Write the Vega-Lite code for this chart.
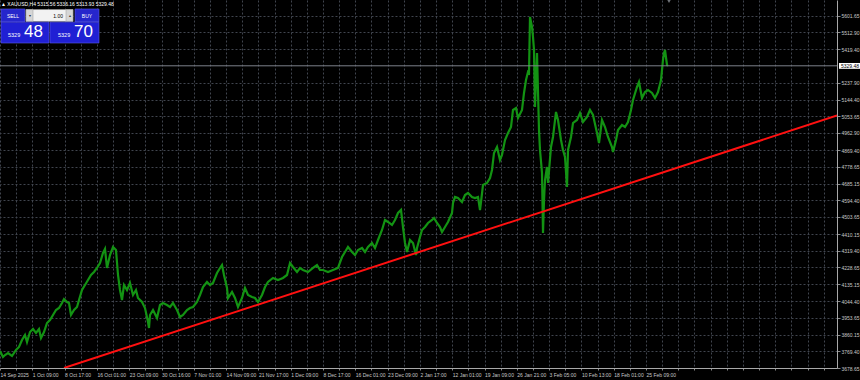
{
  "$schema": "https://vega.github.io/schema/vega-lite/v6.json",
  "width": 837,
  "height": 368,
  "autosize": {"type": "none"},
  "padding": {"left": 0, "top": 0, "right": 23, "bottom": 12},
  "background": "#000000",
  "resolve": {"axis": {"x": "independent", "y": "independent"}},
  "config": {
    "view": {"stroke": null},
    "font": "Liberation Sans",
    "axis": {
      "domainColor": "#a8a8a8",
      "domainWidth": 1,
      "gridColor": "#40454e",
      "gridDash": [2, 2],
      "gridWidth": 1,
      "tickColor": "#8a8a8a",
      "tickSize": 2,
      "labelColor": "#c8c8c8",
      "labelFont": "Liberation Sans",
      "labelFontSize": 5,
      "labelOverlap": false,
      "title": null
    }
  },
  "datasets": {
    "price": [
      {"x":0,"p":3771.5},{"x":3,"p":3738.7},{"x":5,"p":3749.7},{"x":8,"p":3760.6},{"x":12,"p":3744.2},{"x":16,"p":3777.0},{"x":19,"p":3793.4},{"x":22,"p":3831.6},{"x":25,"p":3858.9},{"x":27,"p":3820.7},{"x":30,"p":3875.3},{"x":33,"p":3891.7},{"x":36,"p":3869.9},{"x":39,"p":3891.7},{"x":41,"p":3842.5},{"x":44,"p":3875.3},{"x":47,"p":3924.5},{"x":50,"p":3940.9},{"x":53,"p":3968.2},{"x":56,"p":3995.5},{"x":59,"p":4006.4},{"x":62,"p":4033.8},{"x":64,"p":4055.6},{"x":67,"p":4039.2},{"x":69,"p":4033.8},{"x":71,"p":3968.2},{"x":74,"p":3995.5},{"x":77,"p":4011.9},{"x":79,"p":4050.1},{"x":82,"p":4104.8},{"x":85,"p":4132.1},{"x":88,"p":4159.4},{"x":91,"p":4186.7},{"x":94,"p":4203.1},{"x":97,"p":4225.0},{"x":100,"p":4252.3},{"x":103,"p":4306.9},{"x":105,"p":4328.8},{"x":107,"p":4225.0},{"x":110,"p":4296.0},{"x":113,"p":4339.7},{"x":116,"p":4323.3},{"x":118,"p":4186.7},{"x":120,"p":4104.8},{"x":122,"p":4050.1},{"x":124,"p":4132.1},{"x":127,"p":4104.8},{"x":130,"p":4143.0},{"x":133,"p":4077.5},{"x":136,"p":4104.8},{"x":138,"p":4061.1},{"x":142,"p":4039.2},{"x":145,"p":4006.4},{"x":148,"p":3930.0},{"x":149,"p":3897.2},{"x":150,"p":3968.2},{"x":153,"p":3995.5},{"x":157,"p":3951.8},{"x":160,"p":4022.8},{"x":163,"p":4033.8},{"x":167,"p":4022.8},{"x":170,"p":4011.9},{"x":173,"p":4033.8},{"x":177,"p":3995.5},{"x":180,"p":3957.3},{"x":183,"p":3968.2},{"x":187,"p":3995.5},{"x":190,"p":4006.4},{"x":193,"p":4011.9},{"x":197,"p":4039.2},{"x":200,"p":4077.5},{"x":203,"p":4121.2},{"x":207,"p":4148.5},{"x":210,"p":4132.1},{"x":213,"p":4143.0},{"x":217,"p":4197.6},{"x":220,"p":4225.0},{"x":222,"p":4241.3},{"x":224,"p":4186.7},{"x":227,"p":4115.7},{"x":228,"p":4061.1},{"x":232,"p":4093.8},{"x":235,"p":4061.1},{"x":238,"p":4011.9},{"x":242,"p":4061.1},{"x":245,"p":4115.7},{"x":248,"p":4077.5},{"x":252,"p":4066.5},{"x":255,"p":4061.1},{"x":258,"p":4039.2},{"x":262,"p":4077.5},{"x":265,"p":4121.2},{"x":268,"p":4148.5},{"x":273,"p":4170.3},{"x":278,"p":4159.4},{"x":283,"p":4170.3},{"x":287,"p":4186.7},{"x":290,"p":4252.3},{"x":293,"p":4230.4},{"x":297,"p":4203.1},{"x":300,"p":4225.0},{"x":303,"p":4214.0},{"x":308,"p":4203.1},{"x":313,"p":4225.0},{"x":317,"p":4241.3},{"x":320,"p":4214.0},{"x":323,"p":4214.0},{"x":328,"p":4203.1},{"x":333,"p":4214.0},{"x":338,"p":4225.0},{"x":342,"p":4285.0},{"x":345,"p":4312.4},{"x":348,"p":4339.7},{"x":352,"p":4312.4},{"x":355,"p":4296.0},{"x":358,"p":4323.3},{"x":362,"p":4334.2},{"x":365,"p":4312.4},{"x":368,"p":4339.7},{"x":372,"p":4361.5},{"x":375,"p":4334.2},{"x":378,"p":4377.9},{"x":382,"p":4432.5},{"x":385,"p":4487.2},{"x":388,"p":4476.3},{"x":392,"p":4459.9},{"x":395,"p":4487.2},{"x":398,"p":4525.4},{"x":401,"p":4541.8},{"x":403,"p":4448.9},{"x":405,"p":4361.5},{"x":407,"p":4312.4},{"x":410,"p":4377.9},{"x":413,"p":4361.5},{"x":416,"p":4296.0},{"x":417,"p":4334.2},{"x":420,"p":4394.3},{"x":422,"p":4432.5},{"x":425,"p":4448.9},{"x":428,"p":4470.8},{"x":432,"p":4487.2},{"x":434,"p":4498.1},{"x":437,"p":4470.8},{"x":440,"p":4448.9},{"x":442,"p":4421.6},{"x":445,"p":4448.9},{"x":448,"p":4476.3},{"x":452,"p":4525.4},{"x":453,"p":4580.0},{"x":455,"p":4612.8},{"x":458,"p":4607.4},{"x":462,"p":4585.5},{"x":465,"p":4623.7},{"x":468,"p":4634.7},{"x":472,"p":4612.8},{"x":475,"p":4607.4},{"x":478,"p":4612.8},{"x":480,"p":4541.8},{"x":481,"p":4585.5},{"x":483,"p":4678.4},{"x":487,"p":4689.3},{"x":490,"p":4716.6},{"x":492,"p":4760.3},{"x":494,"p":4853.2},{"x":497,"p":4886.0},{"x":500,"p":4815.0},{"x":502,"p":4842.3},{"x":505,"p":4924.2},{"x":508,"p":4962.5},{"x":511,"p":4995.2},{"x":513,"p":5088.1},{"x":516,"p":5099.0},{"x":518,"p":5044.4},{"x":522,"p":5088.1},{"x":524,"p":5181.0},{"x":526,"p":5252.0},{"x":528,"p":5295.7},{"x":529,"p":5290.2},{"x":530,"p":5596.0},{"x":532,"p":5541.5},{"x":533,"p":5487.0},{"x":534,"p":5415.9},{"x":535,"p":5104.5},{"x":537,"p":5399.5},{"x":539,"p":4978.8},{"x":540,"p":4869.6},{"x":542,"p":4743.9},{"x":543,"p":4416.2},{"x":544,"p":4596.4},{"x":545,"p":4705.7},{"x":547,"p":4776.7},{"x":548,"p":4689.3},{"x":551,"p":4886.0},{"x":553,"p":4940.6},{"x":556,"p":5077.2},{"x":558,"p":5033.5},{"x":561,"p":4924.2},{"x":563,"p":4869.6},{"x":565,"p":4831.4},{"x":567,"p":4667.5},{"x":568,"p":4869.6},{"x":571,"p":4940.6},{"x":573,"p":5017.1},{"x":577,"p":5033.5},{"x":580,"p":5071.7},{"x":583,"p":5022.5},{"x":587,"p":5049.9},{"x":590,"p":5088.1},{"x":593,"p":5060.8},{"x":597,"p":4962.5},{"x":599,"p":4907.8},{"x":602,"p":5033.5},{"x":605,"p":4995.2},{"x":608,"p":4940.6},{"x":612,"p":4886.0},{"x":613,"p":4858.7},{"x":616,"p":4924.2},{"x":618,"p":4978.8},{"x":622,"p":5006.2},{"x":625,"p":4995.2},{"x":628,"p":5022.5},{"x":631,"p":5088.1},{"x":633,"p":5142.8},{"x":637,"p":5213.8},{"x":639,"p":5241.1},{"x":642,"p":5153.7},{"x":645,"p":5186.4},{"x":648,"p":5197.4},{"x":652,"p":5181.0},{"x":655,"p":5153.7},{"x":658,"p":5186.4},{"x":661,"p":5252.0},{"x":663,"p":5361.3},{"x":664,"p":5399.5},{"x":665,"p":5415.9},{"x":667,"p":5334.0},{"x":668,"p":5329.5}
    ],
    "trend": [{"x": 64, "p": 3678.65}, {"x": 837, "p": 5058.0}],
    "marks": [
      {"item": "bid", "p": 5329.48, "label": "5329.48"}
    ]
  },
  "layer": [
    {
      "data": {"name": "price"},
      "mark": {"type": "line", "color": "#139313", "strokeWidth": 2.2, "strokeJoin": "miter"},
      "encoding": {
        "x": {
          "field": "x", "type": "quantitative",
          "scale": {"domain": [0, 837], "nice": false, "zero": false},
          "axis": {
            "orient": "bottom",
            "values": [0,16.15,32.3,48.45,64.6,80.75,96.9,113.05,129.2,145.35,161.5,177.65,193.8,209.95,226.1,242.25,258.4,274.55,290.7,306.85,323,339.15,355.3,371.45,387.6,403.75,419.9,436.05,452.2,468.35,484.5,500.65,516.8,532.95,549.1,565.25,581.4,597.55,613.7,629.85,646,662.15,678.3,694.45,710.6,726.75,742.9,759.05,775.2,791.35,807.5,823.65],
            "labelExpr": "(round(datum.value/16.15)%2==0 && round(datum.value/32.3)<=20) ? ['14 Sep 2025','1 Oct 09:00','8 Oct 17:00','16 Oct 01:00','23 Oct 09:00','30 Oct 16:00','7 Nov 01:00','14 Nov 09:00','21 Nov 17:00','1 Dec 09:00','8 Dec 17:00','16 Dec 01:00','23 Dec 09:00','2 Jan 17:00','12 Jan 01:00','19 Jan 09:00','26 Jan 21:00','3 Feb 05:00','10 Feb 13:00','18 Feb 01:00','25 Feb 09:00'][round(datum.value/32.3)] : ''",
            "labelAlign": "left",
            "labelFlush": false,
            "labelOverlap": false,
            "labelPadding": 2,
            "labelBound": false,
            "grid": true
          }
        },
        "y": {
          "field": "p", "type": "quantitative",
          "scale": {"domain": [3678.65, 5689.0], "nice": false, "zero": false},
          "axis": {
            "orient": "right",
            "values": [5601.65,5512.90,5419.40,5237.90,5144.40,5053.65,4962.90,4869.40,4778.65,4685.15,4594.40,4503.65,4410.15,4319.40,4228.65,4135.15,4044.40,3953.65,3860.15,3769.40,3678.65],
            "format": ".2f",
            "labelAlign": "left",
            "labelPadding": 1,
            "tickSize": 3,
            "labelOverlap": false,
            "labelFlush": false,
            "labelBound": false,
            "grid": true
          }
        }
      }
    },
    {
      "data": {"name": "marks"},
      "mark": {"type": "rule", "color": "#7c818b", "strokeWidth": 1},
      "encoding": {"y": {"field": "p", "type": "quantitative", "axis": null}}
    },
    {
      "data": {"name": "trend"},
      "mark": {"type": "line", "color": "#ff1010", "strokeWidth": 2, "clip": true},
      "encoding": {
        "x": {"field": "x", "type": "quantitative", "axis": null},
        "y": {"field": "p", "type": "quantitative", "axis": null}
      }
    },
    {
      "data": {"name": "marks"},
      "mark": {"type": "rect", "color": "#ffffff", "clip": false},
      "encoding": {"x": {"datum": 839, "axis": null}, "x2": {"datum": 860}, "y": {"datum": 5345, "axis": null}, "y2": {"datum": 5313}}
    },
    {
      "data": {"name": "marks"},
      "mark": {"type": "text", "color": "#000000", "fontSize": 5, "align": "left", "baseline": "middle", "clip": false},
      "encoding": {"x": {"datum": 841, "axis": null}, "y": {"field": "p", "type": "quantitative", "axis": null}, "text": {"field": "label"}}
    },
    {
      "data": {"name": "marks"},
      "mark": {"type": "point", "shape": "triangle-down", "filled": true, "color": "#a0a4ab", "size": 18},
      "encoding": {"x": {"datum": 669, "axis": null}, "y": {"datum": 5683, "axis": null}}
    },
    {
      "data": {"name": "marks"},
      "mark": {"type": "text", "color": "#ffffff", "fontSize": 5, "align": "left", "baseline": "middle"},
      "encoding": {"x": {"datum": 1, "axis": null}, "y": {"datum": 5667, "axis": null}, "text": {"value": "▲ XAUUSD,H4  5315.56 5336.16 5313.93 5329.48"}}
    },
    {
      "data": {"name": "marks"},
      "mark": {"type": "rect", "color": "#2626cc", "stroke": "#5a5ae6", "strokeWidth": 0.6},
      "encoding": {"x": {"datum": 1, "axis": null}, "x2": {"datum": 25}, "y": {"datum": 5640, "axis": null}, "y2": {"datum": 5569}}
    },
    {
      "data": {"name": "marks"},
      "mark": {"type": "rect", "color": "#2626cc", "stroke": "#5a5ae6", "strokeWidth": 0.6},
      "encoding": {"x": {"datum": 75, "axis": null}, "x2": {"datum": 99}, "y": {"datum": 5640, "axis": null}, "y2": {"datum": 5569}}
    },
    {
      "data": {"name": "marks"},
      "mark": {"type": "rect", "color": "#f2f2f2", "stroke": "#9a9a9a", "strokeWidth": 0.5},
      "encoding": {"x": {"datum": 26, "axis": null}, "x2": {"datum": 73}, "y": {"datum": 5637, "axis": null}, "y2": {"datum": 5572}}
    },
    {
      "data": {"name": "marks"},
      "mark": {"type": "rect", "color": "#d6d6d6", "stroke": "#9a9a9a", "strokeWidth": 0.5},
      "encoding": {"x": {"datum": 26, "axis": null}, "x2": {"datum": 33}, "y": {"datum": 5637, "axis": null}, "y2": {"datum": 5572}}
    },
    {
      "data": {"name": "marks"},
      "mark": {"type": "rect", "color": "#d6d6d6", "stroke": "#9a9a9a", "strokeWidth": 0.5},
      "encoding": {"x": {"datum": 66, "axis": null}, "x2": {"datum": 73}, "y": {"datum": 5637, "axis": null}, "y2": {"datum": 5572}}
    },
    {
      "data": {"name": "marks"},
      "mark": {"type": "rect", "color": "#2020d4", "stroke": "#5a5ae6", "strokeWidth": 0.6},
      "encoding": {"x": {"datum": 1, "axis": null}, "x2": {"datum": 49}, "y": {"datum": 5568, "axis": null}, "y2": {"datum": 5454}}
    },
    {
      "data": {"name": "marks"},
      "mark": {"type": "rect", "color": "#2020d4", "stroke": "#5a5ae6", "strokeWidth": 0.6},
      "encoding": {"x": {"datum": 50, "axis": null}, "x2": {"datum": 99}, "y": {"datum": 5568, "axis": null}, "y2": {"datum": 5454}}
    },
    {
      "data": {"name": "marks"},
      "mark": {"type": "text", "color": "#ffffff", "fontSize": 5, "align": "center", "baseline": "middle"},
      "encoding": {"x": {"datum": 13, "axis": null}, "y": {"datum": 5604, "axis": null}, "text": {"value": "SELL"}}
    },
    {
      "data": {"name": "marks"},
      "mark": {"type": "text", "color": "#ffffff", "fontSize": 5, "align": "center", "baseline": "middle"},
      "encoding": {"x": {"datum": 87, "axis": null}, "y": {"datum": 5604, "axis": null}, "text": {"value": "BUY"}}
    },
    {
      "data": {"name": "marks"},
      "mark": {"type": "text", "color": "#000000", "fontSize": 5, "align": "right", "baseline": "middle"},
      "encoding": {"x": {"datum": 63, "axis": null}, "y": {"datum": 5604, "axis": null}, "text": {"value": "1.00"}}
    },
    {
      "data": {"name": "marks"},
      "mark": {"type": "text", "color": "#333333", "fontSize": 4, "align": "center", "baseline": "middle"},
      "encoding": {"x": {"datum": 29.5, "axis": null}, "y": {"datum": 5604, "axis": null}, "text": {"value": "▾"}}
    },
    {
      "data": {"name": "marks"},
      "mark": {"type": "text", "color": "#333333", "fontSize": 4, "align": "center", "baseline": "middle"},
      "encoding": {"x": {"datum": 69.5, "axis": null}, "y": {"datum": 5604, "axis": null}, "text": {"value": "▴"}}
    },
    {
      "data": {"name": "marks"},
      "mark": {"type": "text", "color": "#ffffff", "fontSize": 5.5, "align": "left", "baseline": "middle"},
      "encoding": {"x": {"datum": 8, "axis": null}, "y": {"datum": 5499, "axis": null}, "text": {"value": "5329"}}
    },
    {
      "data": {"name": "marks"},
      "mark": {"type": "text", "color": "#ffffff", "fontSize": 17, "align": "left", "baseline": "middle"},
      "encoding": {"x": {"datum": 24, "axis": null}, "y": {"datum": 5514, "axis": null}, "text": {"value": "48"}}
    },
    {
      "data": {"name": "marks"},
      "mark": {"type": "text", "color": "#ffffff", "fontSize": 5.5, "align": "left", "baseline": "middle"},
      "encoding": {"x": {"datum": 58, "axis": null}, "y": {"datum": 5499, "axis": null}, "text": {"value": "5329"}}
    },
    {
      "data": {"name": "marks"},
      "mark": {"type": "text", "color": "#ffffff", "fontSize": 17, "align": "left", "baseline": "middle"},
      "encoding": {"x": {"datum": 74, "axis": null}, "y": {"datum": 5514, "axis": null}, "text": {"value": "70"}}
    }
  ]
}
